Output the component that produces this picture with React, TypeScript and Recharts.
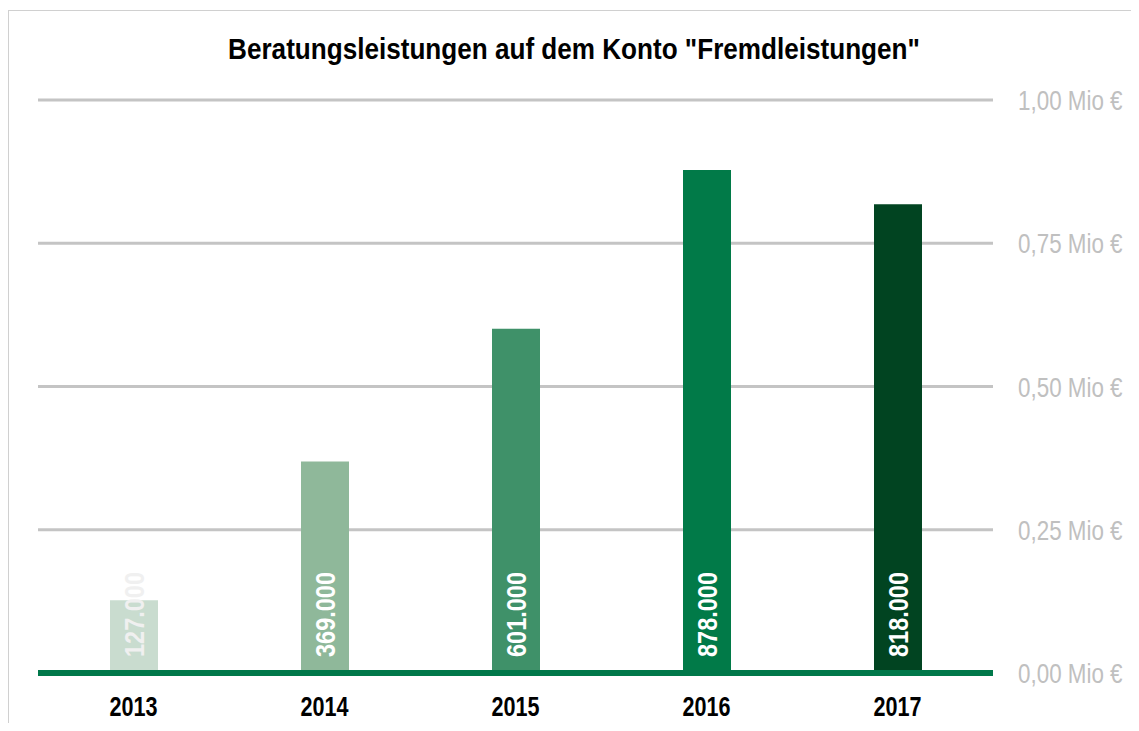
import { BarChart, Bar, XAxis, YAxis, CartesianGrid, Cell, LabelList, ReferenceLine } from 'recharts';

const years = ['2013', '2014', '2015', '2016', '2017'];
const amounts = [127000, 369000, 601000, 878000, 818000];
const yTicks = [0, 250000, 500000, 750000, 1000000];

const BAR_COLORS = ['#c9dccf', '#8fb89a', '#3f9169', '#017a48', '#014421'];
const LABEL_COLORS = ['#f0f0f0', '#ffffff', '#ffffff', '#ffffff', '#ffffff'];

// kein Arial Narrow installiert -> Liberation Sans horizontal gestaucht
const FONT = '"Liberation Sans", Arial, sans-serif';

const data = years.map((year, i) => ({ year, value: amounts[i] }));

// Zahlen im deutschen Format: 127.000
const fmtThousands = (v: number) => v.toLocaleString('de-DE');
const fmtMio = (v: number) => (v / 1000000).toFixed(2).replace('.', ',') + ' Mio €';

const XTick = (props: any) => {
  const { x, y, payload } = props;
  return (
    <g transform={`translate(${x}, ${y}) scale(0.8, 1)`}>
      <text x={0} y={0} dy={35} textAnchor="middle" fill="#000" fontFamily={FONT} fontWeight="bold" fontSize={27}>
        {payload.value}
      </text>
    </g>
  );
};

const YTick = (props: any) => {
  const { x, y, payload } = props;
  return (
    <g transform={`translate(${x}, ${y}) scale(0.8, 1)`}>
      <text x={0} y={0} dy={10} textAnchor="start" fill="#c0c0c0" fontFamily={FONT} fontSize={28}>
        {fmtMio(payload.value)}
      </text>
    </g>
  );
};

const BarLabel = (props: any) => {
  const { x, y, width, height, value, index } = props;
  const cx = x + width / 2;
  const by = y + height - 16;
  return (
    <g transform={`translate(${cx}, ${by}) rotate(-90) scale(0.84, 1)`}>
      <text
        x={0}
        y={0}
        textAnchor="start"
        dominantBaseline="central"
        fill={LABEL_COLORS[index]}
        fontFamily={FONT}
        fontWeight="bold"
        fontSize={28}
      >
        {fmtThousands(value)}
      </text>
    </g>
  );
};

const App = () => {
  return (
    <div
      style={{
        position: 'relative',
        marginTop: 2,
        width: 1130,
        height: 712,
        borderLeft: '1px solid #d0d0d0',
        borderTop: '1px solid #d0d0d0',
        background: '#fff',
        overflow: 'hidden',
      }}
    >
      <div
        style={{
          position: 'absolute',
          top: 21,
          left: 0,
          width: 1130,
          textAlign: 'center',
          fontFamily: FONT,
          fontWeight: 'bold',
          fontSize: 30,
          color: '#000',
          transform: 'scaleX(0.87)',
          transformOrigin: '565px 0',
          whiteSpace: 'nowrap',
        }}
      >
        Beratungsleistungen auf dem Konto "Fremdleistungen"
      </div>
      <BarChart
        width={1130}
        height={712}
        data={data}
        margin={{ top: 89, right: 0, bottom: 10, left: 29 }}
      >
        <CartesianGrid horizontal vertical={false} stroke="#c4c4c4" strokeWidth={3} />
        <XAxis
          dataKey="year"
          axisLine={false}
          tickLine={false}
          tick={<XTick />}
          height={40}
          interval={0}
        />
        <YAxis
          orientation="right"
          domain={[0, 1000000]}
          ticks={yTicks}
          axisLine={false}
          tickLine={false}
          tickSize={0}
          tickMargin={25}
          width={146}
          tick={<YTick />}
        />
        <Bar dataKey="value" barSize={48} isAnimationActive={false}>
          {data.map((_, i) => (
            <Cell key={i} fill={BAR_COLORS[i]} />
          ))}
          <LabelList dataKey="value" content={<BarLabel />} />
        </Bar>
        <ReferenceLine y={0} stroke="#00784a" strokeWidth={6} />
      </BarChart>
    </div>
  );
};

export default App;
